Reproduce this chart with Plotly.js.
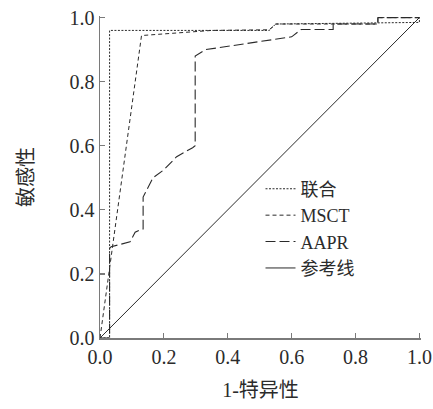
<!DOCTYPE html>
<html>
<head>
<meta charset="utf-8">
<script src="https://cdn.plot.ly/plotly-3.0.1.min.js"></script>
<style>html,body{margin:0;padding:0;background:#fff;}#chart{width:433px;height:409px;}</style>
</head>
<body>
<div id="chart"></div>
<script>
// Data (1-specificity, sensitivity)
const seriesNames = ["联合", "MSCT", "AAPR", "参考线"];
const combinedX = [0, 0.03, 0.03, 0.53, 0.55, 0.87, 1.0, 1.0];
const combinedY = [0, 0, 0.96, 0.96, 0.98, 0.985, 0.985, 1.0];
const msctX = [0, 0.13, 0.35, 0.53, 0.55, 0.87, 0.87, 1.0];
const msctY = [0, 0.944, 0.96, 0.962, 0.98, 0.98, 1.0, 1.0];
const aaprX = [0, 0.03, 0.03, 0.035, 0.094, 0.11, 0.13, 0.135, 0.135, 0.166, 0.2, 0.24, 0.29, 0.298, 0.298, 0.33, 0.6, 0.63, 0.73, 0.73, 0.87, 0.87, 1.0];
const aaprY = [0, 0, 0.28, 0.285, 0.30, 0.33, 0.34, 0.34, 0.44, 0.50, 0.525, 0.566, 0.594, 0.60, 0.88, 0.90, 0.94, 0.963, 0.963, 0.98, 0.98, 1.0, 1.0];
const refX = [0, 1];
const refY = [0, 1];
const tickVals = [0, 0.2, 0.4, 0.6, 0.8, 1.0];
const tickText = ["0.0", "0.2", "0.4", "0.6", "0.8", "1.0"];

const FONT = "Liberation Serif, Noto Sans CJK SC, serif";
const lineColor = "#2a2a2a";

const traces = [
  {x: combinedX, y: combinedY, name: seriesNames[0], mode: "lines",
   line: {color: lineColor, width: 1, dash: "2px,1.5px"}},
  {x: msctX, y: msctY, name: seriesNames[1], mode: "lines",
   line: {color: lineColor, width: 1, dash: "4px,3px"}},
  {x: aaprX, y: aaprY, name: seriesNames[2], mode: "lines",
   line: {color: lineColor, width: 1.1, dash: "10px,4px"}},
  {x: refX, y: refY, name: seriesNames[3], mode: "lines",
   line: {color: lineColor, width: 1}}
];

const axisCommon = {
  showline: true, linecolor: "#7a7a7a", linewidth: 1.5, mirror: false,
  ticks: "inside", ticklen: 5, tickwidth: 1.2, tickcolor: "#7a7a7a",
  showgrid: false, zeroline: false,
  tickmode: "array", tickvals: tickVals, ticktext: tickText,
  tickfont: {family: FONT, size: 20, color: "#2b2b2b"}
};

const layout = {
  width: 433, height: 409,
  margin: {l: 100, r: 12, t: 16, b: 71},
  paper_bgcolor: "#fff", plot_bgcolor: "#fff",
  showlegend: true,
  legend: {x: 0.50, y: 0.52, xanchor: "left", yanchor: "top",
           bgcolor: "rgba(0,0,0,0)", borderwidth: 0,
           font: {family: FONT, size: 18, color: "#2b2b2b"},
           itemwidth: 30, tracegroupgap: 0},
  xaxis: Object.assign({}, axisCommon, {
    range: [0, 1.005],
    title: {text: "1-特异性", font: {family: FONT, size: 20, color: "#2b2b2b"}, standoff: 16}
  }),
  yaxis: Object.assign({}, axisCommon, {
    range: [0, 1.005],
    title: {text: "敏感性", font: {family: FONT, size: 20, color: "#2b2b2b"}, standoff: 30}
  })
};

Plotly.newPlot("chart", traces, layout, {displayModeBar: false, staticPlot: true});
</script>
</body>
</html>
